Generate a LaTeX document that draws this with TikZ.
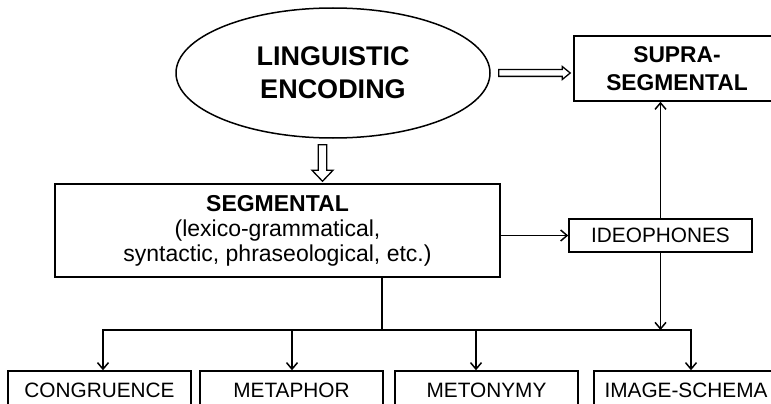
\documentclass[tikz,border=0pt]{standalone}
\usepackage{fontspec}
\setmainfont{Liberation Sans}
\usetikzlibrary{arrows.meta,calc,shapes.geometric}
\begin{document}
\begin{tikzpicture}[x=1pt,y=-1pt,
  box/.style={draw, line width=1.5pt, rectangle, inner sep=0pt, align=center},
  conn/.style={line width=1.5pt, -{Straight Barb[length=6.5pt,width=11pt,line width=1.5pt]}},
  plain/.style={line width=1.5pt},
  blk/.style={draw, line width=1.3pt, fill=white, line join=miter},
  lab/.style={font=\fontsize{20.8}{24}\selectfont},
  ]
\useasboundingbox (0,0) rectangle (771,404);
\clip (0,0) rectangle (771,404);

\node[draw, ellipse, line width=1.5pt, minimum width=314pt, minimum height=130pt, inner sep=0pt, align=center,
  font=\bfseries\fontsize{27}{33}\selectfont] (ell) at (333,73) {LINGUISTIC\\ENCODING};
\node[box, minimum width=206pt, minimum height=65pt, font=\bfseries\fontsize{22.8}{28}\selectfont] (supra) at (677,68.5) {SUPRA-\\SEGMENTAL};
\node[box, lab, minimum width=183pt, minimum height=33pt] (ideo) at (660.5,235.5) {IDEOPHONES};
\node[box, minimum width=445pt, minimum height=93pt, font=\fontsize{23}{25}\selectfont] (seg) at (277.5,230.5)
  {{\bfseries SEGMENTAL}\\(lexico-grammatical,\\syntactic, phraseological, etc.)};

\node[box, lab, minimum width=183pt, minimum height=38pt] (cong) at (99.5,390) {CONGRUENCE};
\node[box, lab, minimum width=183pt, minimum height=38pt] (meta) at (291.5,390) {METAPHOR};
\node[box, lab, minimum width=183pt, minimum height=38pt] (meto) at (486.5,390) {METONYMY};
\node[box, lab, minimum width=184pt, minimum height=38pt] (img) at (686,390) {IMAGE-SCHEMA};

% block arrows
\coordinate (ra) at ($(ell.east)+(8,0)$);
\coordinate (rb) at ($(ell.east -| supra.west)+(-3,0)$);
\draw[blk] ($(ra)+(0,-3.4)$) -- ($(rb)+(-8,-3.4)$) -- ($(rb)+(-8,-6.5)$) -- (rb) -- ($(rb)+(-8,6.5)$) -- ($(rb)+(-8,3.4)$) -- ($(ra)+(0,3.4)$) -- cycle;
\coordinate (da) at ($(ell.south)+(-10.5,6)$);
\coordinate (db) at ($(da |- seg.north)+(0,-2)$);
\draw[blk] ($(da)+(-4.2,0)$) -- ($(db)+(-4.2,-11)$) -- ($(db)+(-10.5,-11)$) -- (db) -- ($(db)+(10.5,-11)$) -- ($(db)+(4.2,-11)$) -- ($(da)+(4.2,0)$) -- cycle;

% connectors
\coordinate (j) at (382,330);
\coordinate (b1) at (103,330);
\coordinate (b2) at (292,330);
\coordinate (b3) at (476,330);
\coordinate (b4) at (691,330);
\draw[plain] (j |- seg.south) -- (j);
\draw[plain, line cap=rect] (b1) -- (b4);
\draw[conn] (b1) -- (b1 |- cong.north);
\draw[conn] (b2) -- (b2 |- meta.north);
\draw[conn] (b3) -- (b3 |- meto.north);
\draw[conn] (b4) -- (b4 |- img.north);
\draw[conn] (seg.east |- ideo.west) -- (ideo.west);
\draw[conn] (ideo.south) -- (ideo.south |- b4);
\draw[conn] (ideo.north) -- (ideo.north |- supra.south);
\end{tikzpicture}
\end{document}
